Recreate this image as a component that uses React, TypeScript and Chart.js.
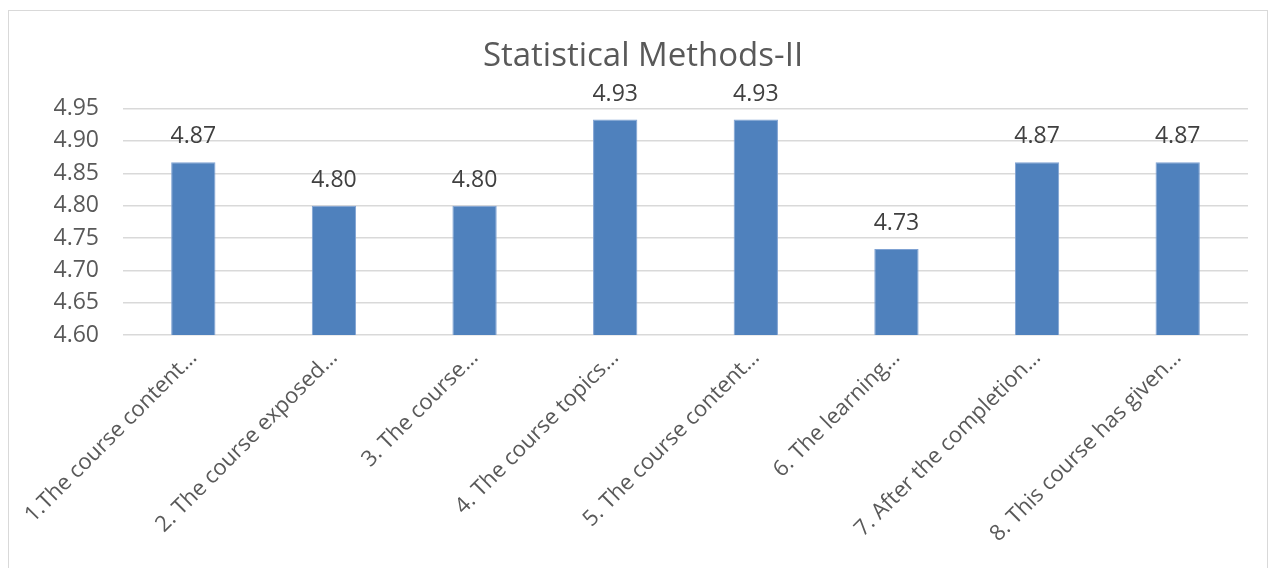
import React, { useEffect, useRef } from "react";
import { Chart, registerables } from "chart.js";

Chart.register(...registerables);

const chartTitle = "Statistical Methods-II";
const categories = [
  "1.The course content…",
  "2. The course exposed…",
  "3. The course…",
  "4. The course topics…",
  "5. The course content…",
  "6. The learning…",
  "7. After the completion…",
  "8. This course has given…",
];
const scores = [4.867, 4.8, 4.8, 4.933, 4.933, 4.733, 4.867, 4.867];
const yMin = 4.6;
const yMax = 4.95;
const yStep = 0.05;

const FONT = "'Open Sans', 'Noto Sans', sans-serif";

const valueLabels = {
  id: "valueLabels",
  afterDatasetsDraw(chart: any) {
    const ctx = chart.ctx;
    const meta = chart.getDatasetMeta(0);
    ctx.save();
    ctx.fillStyle = "#404040";
    ctx.font = `23px ${FONT}`;
    ctx.textAlign = "center";
    ctx.textBaseline = "alphabetic";
    meta.data.forEach((bar: any, i: number) => {
      const v = chart.data.datasets[0].data[i] as number;
      ctx.fillText(v.toFixed(2), bar.x, bar.y - 19);
    });
    ctx.restore();
  },
};

export default function App() {
  const ref = useRef<HTMLCanvasElement | null>(null);
  useEffect(() => {
    document.body.style.overflow = "hidden";
    const chart = new Chart(ref.current!, {
      type: "bar",
      data: {
        labels: categories,
        datasets: [
          {
            data: scores,
            backgroundColor: "#4F81BD",
            borderColor: "#7FA2D3",
            borderWidth: 1,
            barPercentage: 0.63,
            categoryPercentage: 0.5,
          },
        ],
      },
      options: {
        animation: false,
        responsive: false,
        layout: { padding: { left: 29, right: 19, top: 0, bottom: 0 } },
        plugins: {
          legend: { display: false },
          tooltip: { enabled: false },
          title: {
            display: true,
            text: chartTitle,
            color: "#595959",
            font: { family: FONT, size: 33, weight: "normal", lineHeight: 1.2 },
            padding: { top: 26, bottom: 32 },
          },
        },
        scales: {
          x: {
            grid: { display: false, drawTicks: false },
            border: { display: false },
            ticks: {
              color: "#595959",
              font: { family: FONT, size: 22 },
              maxRotation: 45,
              minRotation: 45,
              autoSkip: false,
              padding: 10,
            },
            afterFit(scale: any) {
              scale.height = 234;
            },
          },
          y: {
            min: yMin,
            max: yMax,
            grid: { color: "#d9d9d9", lineWidth: 1.5, drawTicks: false },
            border: { display: false },
            ticks: {
              stepSize: yStep,
              color: "#595959",
              font: { family: FONT, size: 23 },
              padding: 24,
              callback: (v: any) => Number(v).toFixed(2),
            },
            afterFit(scale: any) {
              scale.width = 85;
            },
          },
        },
      },
      plugins: [valueLabels],
    });
    return () => chart.destroy();
  }, []);
  return (
    <div
      style={{
        width: 1260,
        height: 570,
        marginTop: 2,
        border: "1px solid #d9d9d9",
        boxSizing: "border-box",
        background: "#fff",
      }}
    >
      <canvas ref={ref} width={1258} height={558} style={{ display: "block" }} />
    </div>
  );
}
